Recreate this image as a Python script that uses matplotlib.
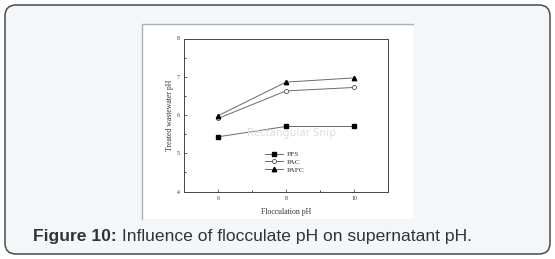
import matplotlib.pyplot as plt
from matplotlib.patches import FancyBboxPatch, Rectangle, Circle

# =========================
# Data
# =========================
floc_ph = [6, 8, 10]
pfs = [5.43, 5.70, 5.70]
pac = [5.91, 6.63, 6.72]
pafc = [5.98, 6.86, 6.97]

x_ticks = [6, 8, 10]
y_ticks = [4, 5, 6, 7, 8]

caption_bold = "Figure 10:"
caption_rest = " Influence of flocculate pH on supernatant pH."

W, H = 555, 259

fig = plt.figure(figsize=(W / 100, H / 100), dpi=100)
fig.patch.set_facecolor("white")

# background card with rounded corners
bg = fig.add_axes([0, 0, 1, 1])
bg.set_xlim(0, W)
bg.set_ylim(H, 0)
bg.axis("off")
bg.add_patch(FancyBboxPatch((5, 5), W - 10, H - 10,
                            boxstyle="round,pad=0,rounding_size=11",
                            facecolor="#f3f7fa", edgecolor="#4a4a4a", lw=1.1))
# white inset picture
bg.add_patch(Rectangle((142, 24), 271, 195, facecolor="white",
                       edgecolor="none"))
bg.plot([142, 142, 413], [219, 24, 24], color="#b0b0b0", lw=1)

# caption: bold part then regular part right after it
cap_size = 12.6
t1 = fig.text(33 / W, 1 - 241 / H, caption_bold, fontsize=cap_size,
              fontweight="bold", color="#333333", family="Liberation Sans",
              va="baseline")
fig.canvas.draw()
bb = t1.get_window_extent()
fig.text(bb.x1 / W, 1 - 241 / H, caption_rest, fontsize=cap_size,
         color="#333333", family="Liberation Sans", va="baseline")

# =========================
# Plot
# =========================
ax = fig.add_axes([184 / W, 1 - 191.5 / H, 204 / W, 153 / H])
ax.set_xlim(5, 11)
ax.set_ylim(4, 8)

serif = "Liberation Serif"
line_col = "#6a6a6a"
ax.plot(floc_ph, pfs, color=line_col, lw=0.7, marker="s", ms=2.6,
        mfc="black", mec="black", label="PFS")
ax.plot(floc_ph, pac, color=line_col, lw=0.7, marker="o", ms=3,
        mfc="white", mec="#555555", mew=0.6, label="PAC")
ax.plot(floc_ph, pafc, color=line_col, lw=0.7, marker="^", ms=3.2,
        mfc="black", mec="black", label="PAFC")

ax.set_xticks(x_ticks)
ax.set_xticks([5, 7, 9, 11], minor=True)
ax.set_yticks(y_ticks)
ax.set_yticks([4.5, 5.5, 6.5, 7.5], minor=True)
ax.tick_params(direction="in", length=2, width=0.5, labelsize=4.2,
               pad=3, colors="#333333")
ax.tick_params(which="minor", direction="in", length=1.2, width=0.5)
for lab in ax.get_xticklabels() + ax.get_yticklabels():
    lab.set_family(serif)
for s in ax.spines.values():
    s.set_linewidth(0.7)
    s.set_color("#444444")

ax.set_xlabel("Flocculation pH", fontsize=5.6, family=serif, labelpad=5,
              color="#333333")
ax.set_ylabel("Treated wastewater pH", fontsize=5.6, family=serif, labelpad=2,
              color="#333333")

leg = ax.legend(loc="upper left", bbox_to_anchor=(0.38, 0.29), frameon=False,
                prop={"family": serif, "size": 5.4}, handlelength=2.4,
                labelspacing=0.2, borderpad=0, handletextpad=0.4)
for t in leg.get_texts():
    t.set_color("#333333")

# faint snipping-tool watermark
bg.add_patch(Rectangle((214, 123), 173, 21, facecolor="#f6f8fa",
                       edgecolor="#eef0f3", lw=0.5, alpha=0.5, zorder=5))
bg.add_patch(Circle((226, 133.5), 4.5, facecolor="#e6e9ee",
                    edgecolor="none", alpha=0.8, zorder=6))
fig.text(247 / W, 1 - 133.5 / H, "Rectangular Snip", fontsize=8,
         color="#dcdfe4", family="Noto Sans", va="center", zorder=7)

fig.savefig("out.png", dpi=100)
